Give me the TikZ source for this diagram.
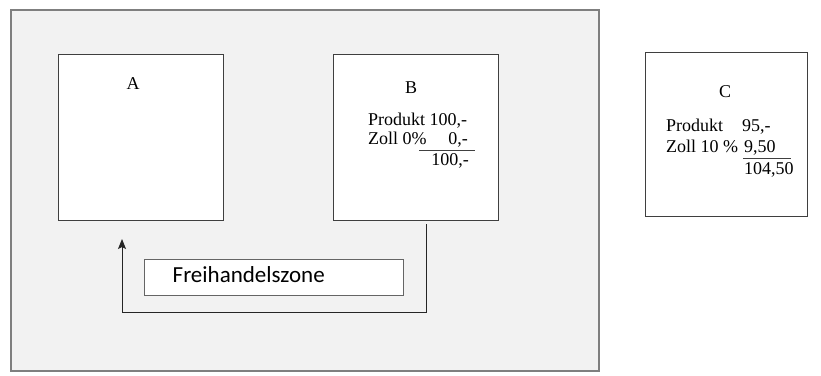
\documentclass[tikz,border=0pt]{standalone}
\usepackage{fontspec}
\setmainfont{Liberation Serif}
\newfontfamily\calfont{Carlito}
\usetikzlibrary{arrows.meta}
\definecolor{zonefill}{HTML}{F2F2F2}
\definecolor{zoneline}{HTML}{7F7F7F}
\definecolor{boxline}{HTML}{3F3F3F}
\tikzset{
  zone/.style={draw=zoneline, line width=1.6pt, fill=zonefill},
  land/.style={draw=boxline, line width=1pt, fill=white},
  labelbox/.style={draw=boxline!80, line width=1pt, fill=white},
  txt/.style={font=\fontsize{18}{20}\selectfont, inner sep=0pt, anchor=base west},
  ttl/.style={font=\fontsize{18}{20}\selectfont, inner sep=0pt, anchor=base},
  flow/.style={draw=black!85, line width=1pt},
  sumline/.style={draw=black!75, line width=0.8pt}
}
\begin{document}
\begin{tikzpicture}[x=1pt,y=-1pt]
\useasboundingbox (0,0) rectangle (821,375);
% outer zone
\path[zone] (11,10) rectangle (599,371);
% boxes
\path[land] (58,54) rectangle (223,220);
\path[land] (333,54) rectangle (498,220);
\path[land] (645,52) rectangle (807,216);
% titles
\node[ttl] (tA) at (133,89) {A};
\node[ttl] (tB) at (411,93) {B};
\node[ttl] (tC) at (725,97) {C};
% B contents
\node[txt] (b1) at (368,125) {Produkt 100,-};
\node[txt] (b2) at (368,144) {Zoll 0\%};
\node[txt, anchor=base east] (b3) at (468,144) {0,-};
\coordinate (bl1) at (419,150);
\coordinate (bl2) at (475,150);
\draw[sumline] (bl1) -- (bl2);
\node[txt, anchor=base east] (b4) at (469,165) {100,-};
% C contents
\node[txt] (c1) at (666,131) {Produkt};
\node[txt] (c1v) at (742,131) {95,-};
\node[txt] (c2) at (666,152) {Zoll 10 \%};
\node[txt] (c2v) at (744,152) {9,50};
\coordinate (cl1) at (743,158);
\coordinate (cl2) at (791,158);
\draw[sumline] (cl1) -- (cl2);
\node[txt] (c3) at (744,174) {104,50};
% Freihandelszone label
\path[labelbox] (144,259) rectangle (403,295.5);
\node[font=\calfont\fontsize{23}{26}\selectfont, inner sep=0pt, anchor=base west] (fz) at (172.5,282.7) {Freihandelszone};
% flow arrow
\coordinate (p0) at (426,224);
\coordinate (p1) at (426,312);
\coordinate (p2) at (122,312);
\coordinate (p3) at (122,239);
\draw[flow, -{Stealth[length=10pt,width=8pt,inset=2pt]}] (p0) -- (p1) -- (p2) -- (p3);
\end{tikzpicture}
\end{document}
